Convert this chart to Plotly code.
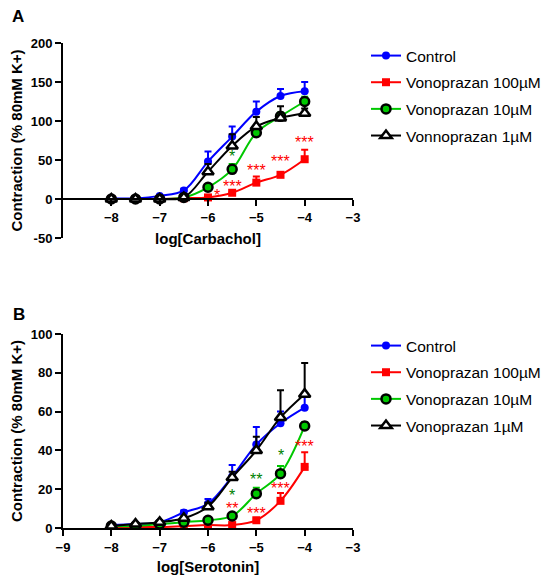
import plotly.graph_objects as go

# log concentrations
log_conc = [-8, -7.5, -7, -6.5, -6, -5.5, -5, -4.5, -4]

names_a = ["Control", "Vonoprazan 100µM", "Vonoprazan 10µM", "Vonnoprazan 1µM"]
names_b = ["Control", "Vonoprazan 100µM", "Vonoprazan 10µM", "Vonoprazan 1µM"]

# panel A - carbachol (mean, upper SEM)
carb_ctrl = [1, 1, 4, 11, 48, 80, 112, 132, 138]
carb_ctrl_err = [1, 1, 1, 2, 13, 13, 13, 9, 12]
carb_100 = [0, 0, 0, 1, 2, 8, 21, 31, 51]
carb_100_err = [0, 0, 0, 0, 1, 1, 8, 2, 12]
carb_10 = [0, 0, 0, 2, 15, 38, 85, 106, 125]
carb_10_err = [0, 0, 0, 1, 2, 7, 4, 5, 6]
carb_1 = [0, 0, 0, 2, 35, 68, 93, 104, 110]
carb_1_err = [0, 0, 0, 1, 10, 15, 12, 15, 6]

# panel B - serotonin
sero_ctrl = [1.5, 2, 3, 8, 12.5, 26.5, 43, 54, 62]
sero_ctrl_err = [0.5, 0.5, 0.5, 1, 2.5, 6, 9, 6, 6]
sero_100 = [0.5, 0.5, 0.5, 1, 1.5, 1.5, 4, 14, 31.5]
sero_100_err = [0, 0, 0, 0, 0, 0.5, 1, 4, 7.5]
sero_10 = [1, 1, 2, 3, 4, 6.2, 17.7, 28, 52.6]
sero_10_err = [0, 0, 0, 0.5, 0.5, 1, 3, 4, 2]
sero_1 = [1, 2, 3, 5, 11, 26, 40, 57, 69]
sero_1_err = [0.5, 0.5, 0.5, 1, 2, 3, 7, 14, 16]

# significance marks (x, y, text, colour)
stars_a_x = [-5.82, -5.5, -5.0, -4.5, -4.0, -5.5]
stars_a_y = [5, 16, 36, 48, 73, 54]
stars_a_t = ["*", "***", "***", "***", "***", "*"]
stars_a_c = ["red", "red", "red", "red", "red", "green"]

stars_b_x = [-5.5, -5.5, -5.0, -5.0, -4.5, -4.5, -4.0]
stars_b_y = [16.5, 10, 25, 7.5, 37.5, 20.5, 42]
stars_b_t = ["*", "**", "**", "***", "*", "***", "***"]
stars_b_c = ["green", "red", "green", "red", "green", "red", "red"]

blue = "rgb(0,0,255)"
red = "rgb(255,0,0)"
green = "rgb(0,200,0)"
black = "black"

# page offset: the browser page adds a small margin round the figure
OFF = 7


def px_x(p):
    return (p - OFF) / 550


def px_y(p):
    return 1 - (p - OFF) / 583


styles = [
    dict(color=blue, marker=dict(symbol="circle", size=8, color=blue)),
    dict(color=red, marker=dict(symbol="square", size=8, color=red)),
    dict(color=green, marker=dict(symbol="circle", size=9, color=green, line=dict(color=black, width=2.5))),
    dict(color=black, marker=dict(symbol="triangle-up", size=10, color="white", line=dict(color=black, width=2.5))),
]

fig = go.Figure()

panel_a = [(carb_ctrl, carb_ctrl_err), (carb_100, carb_100_err), (carb_10, carb_10_err), (carb_1, carb_1_err)]
panel_b = [(sero_ctrl, sero_ctrl_err), (sero_100, sero_100_err), (sero_10, sero_10_err), (sero_1, sero_1_err)]

for i, (vals, err) in enumerate(panel_a):
    st = styles[i]
    fig.add_trace(go.Scatter(
        x=log_conc, y=vals, name=names_a[i], mode="lines+markers",
        line=dict(color=st["color"], width=2, shape="spline", smoothing=1.0),
        marker=st["marker"],
        error_y=dict(type="data", symmetric=False, array=err, arrayminus=[0] * len(err),
                     color=st["color"], thickness=2, width=3.5),
        xaxis="x", yaxis="y", legend="legend", legendgroup="a" + str(i),
    ))

for i, (vals, err) in enumerate(panel_b):
    st = styles[i]
    fig.add_trace(go.Scatter(
        x=log_conc, y=vals, name=names_b[i], mode="lines+markers",
        line=dict(color=st["color"], width=2, shape="spline", smoothing=1.0),
        marker=st["marker"],
        error_y=dict(type="data", symmetric=False, array=err, arrayminus=[0] * len(err),
                     color=st["color"], thickness=2, width=3.5),
        xaxis="x2", yaxis="y2", legend="legend2", legendgroup="b" + str(i),
    ))

for x, y, t, c in zip(stars_a_x, stars_a_y, stars_a_t, stars_a_c):
    fig.add_annotation(x=x, y=y, xref="x", yref="y", text=t, showarrow=False,
                       font=dict(color=c, size=16))
for x, y, t, c in zip(stars_b_x, stars_b_y, stars_b_t, stars_b_c):
    fig.add_annotation(x=x, y=y, xref="x2", yref="y2", text=t, showarrow=False,
                       font=dict(color=c, size=16))

fig.add_annotation(x=px_x(17), y=px_y(15), xref="paper", yref="paper", text="<b>A</b>",
                   xanchor="center", yanchor="middle",
                   showarrow=False, font=dict(size=17, color="black"))
fig.add_annotation(x=px_x(18), y=px_y(313), xref="paper", yref="paper", text="<b>B</b>",
                   xanchor="center", yanchor="middle",
                   showarrow=False, font=dict(size=17, color="black"))

tick_font = dict(family="Liberation Sans", size=13, color="black", weight="bold")
title_font = dict(family="Liberation Sans", size=15, color="black", weight="bold")
axis_common = dict(showline=True, linecolor="black", linewidth=2, ticks="outside",
                   ticklen=6, tickwidth=2, tickcolor="black", showgrid=False, zeroline=False,
                   tickfont=tick_font)

x_dom = [px_x(62), px_x(352)]
legend_font = dict(family="Liberation Sans", size=15.5, color="black")

fig.update_layout(
    width=550, height=583, template="none",
    paper_bgcolor="white", plot_bgcolor="white",
    margin=dict(l=0, r=0, t=0, b=0),
    font=dict(family="Liberation Sans", color="black"),
    xaxis=dict(axis_common, domain=x_dom, range=[-9, -3], anchor="free",
               position=px_y(198), tickvals=[-8, -7, -6, -5, -4, -3],
               title=dict(text="log[Carbachol]", font=title_font, standoff=9)),
    yaxis=dict(axis_common, domain=[px_y(237), px_y(42)], range=[-50, 200],
               anchor="x", tickvals=[-50, 0, 50, 100, 150, 200],
               ticktext=["-50", "0", "50", "100", "150", "200"],
               title=dict(text="Contraction (% 80mM K+)", font=title_font, standoff=9)),
    xaxis2=dict(axis_common, domain=x_dom, range=[-9, -3], anchor="y2",
                tickvals=[-9, -8, -7, -6, -5, -4, -3],
                title=dict(text="log[Serotonin]", font=title_font, standoff=8)),
    yaxis2=dict(axis_common, domain=[px_y(527), px_y(333)], range=[0, 100],
                anchor="x2", tickvals=[0, 20, 40, 60, 80, 100],
                title=dict(text="Contraction (% 80mM K+)", font=title_font, standoff=9)),
    legend=dict(x=px_x(365), y=px_y(38), xanchor="left", yanchor="top",
                font=legend_font, tracegroupgap=3.5, bgcolor="rgba(0,0,0,0)"),
    legend2=dict(x=px_x(365), y=px_y(328), xanchor="left", yanchor="top",
                 font=legend_font, tracegroupgap=3.5, bgcolor="rgba(0,0,0,0)"),
)

fig.write_html("out.html")
